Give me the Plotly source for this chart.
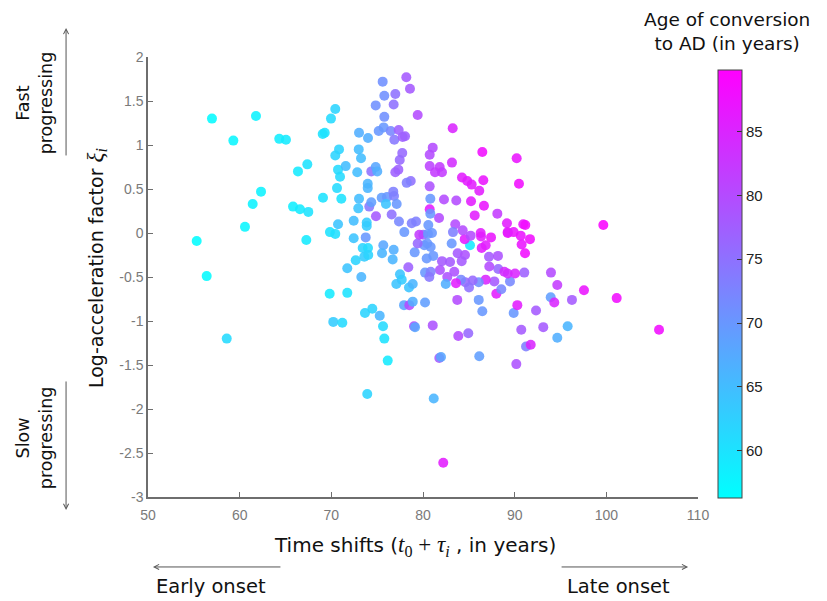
import plotly.graph_objects as go

# Time shift (t0 + tau_i, years) per subject
time_shift = [
    55.31, 56.40, 56.98, 58.59, 59.31, 60.58, 61.42, 61.78, 62.33, 64.32,
    65.05, 65.82, 66.58, 67.49, 66.36, 67.38, 67.27, 69.06, 69.28, 69.96,
    70.43, 69.09, 69.85, 70.43, 70.73, 70.62, 71.09, 70.73, 70.95, 70.84,
    70.43, 71.57, 72.44, 72.44, 72.66, 71.74, 72.99, 73.24, 73.02, 74.00,
    72.83, 73.97, 73.97, 73.02, 72.94, 73.86, 73.86, 73.75, 73.42, 74.00,
    73.60, 74.03, 73.27, 74.36, 74.84, 75.01, 74.14, 74.36, 74.87, 75.17,
    75.71, 75.78, 74.84, 75.78, 75.60, 76.98, 76.80, 78.18, 78.58, 79.42,
    76.48, 77.35, 78.04, 76.87, 77.78, 77.74, 77.46, 77.31, 76.98, 78.66,
    78.22, 75.49, 76.07, 76.84, 76.76, 75.96, 77.13, 76.58, 77.38, 77.96,
    78.77, 79.24, 75.67, 76.80, 75.53, 76.69, 79.09, 78.40, 69.82, 71.74,
    70.21, 71.20, 73.67, 74.47, 75.28, 75.64, 75.78, 76.15, 73.92, 77.49,
    77.68, 77.09, 78.47, 78.88, 77.93, 78.51, 78.88, 79.02, 79.13, 81.06,
    83.85, 81.78, 81.96, 81.17, 80.22, 82.21, 86.14, 90.18, 91.24, 91.75,
    84.94, 90.72, 93.12, 95.78, 94.65, 105.75, 83.74, 86.08, 86.47, 88.00,
    89.89, 90.29, 92.33, 93.93, 94.32, 96.25, 97.56, 101.13, 93.96, 94.65,
    91.05, 89.49, 88.54, 87.78, 86.84, 88.21, 88.87, 89.24, 90.04, 87.23,
    86.08, 85.42, 84.61, 85.02, 84.14, 83.60, 83.41, 82.65, 81.85, 82.48,
    80.22, 80.84, 80.69, 82.07, 82.95, 83.78, 84.58, 84.22, 87.20, 88.18,
    86.40, 86.84, 85.13, 83.13, 84.55, 80.14, 80.47, 81.12, 80.40, 79.42,
    80.03, 86.33, 87.42, 89.24, 90.66, 91.67, 90.76, 91.13, 83.24, 86.47,
    90.22, 90.47, 99.67, 81.06, 80.73, 80.73, 81.82, 82.07, 81.31, 83.16,
    84.25, 84.83, 85.31, 86.58, 86.14, 80.73, 80.80, 82.29, 83.63, 85.24,
    86.65, 85.64, 88.11, 80.73, 80.80, 81.75, 83.52, 89.16, 89.89, 89.24,
    90.94, 91.16, 83.27, 84.33, 85.20, 86.29, 79.60, 80.54, 80.98, 80.84,
    80.58,
]

# Log-acceleration factor xi_i per subject
log_accel = [
    -0.09, -0.49, 1.30, -1.20, 1.05, 0.07, 0.33, 1.33, 0.47, 1.07,
    1.06, 0.30, 0.27, 0.24, 0.70, 0.78, -0.08, 1.125, 1.14, 1.30,
    1.41, 0.40, 0.01, -0.01, 0.10, 0.51, 0.39, 0.72, 0.64, 0.95,
    0.88, 0.76, 0.14, -0.06, -0.31, -0.40, 0.95, 0.85, 1.14, 1.08,
    0.69, 0.56, 0.51, 0.39, 0.28, 0.12, 0.08, -0.05, -0.17, -0.17,
    -0.27, -0.25, -0.50, 0.70, 0.75, 0.70, 0.30, 0.35, 0.19, 1.16,
    1.20, 1.32, 1.45, 1.56, 1.72, 1.58, 1.46, 1.77, 1.64, 1.34,
    1.16, 1.17, 1.10, 1.06, 1.09, 0.91, 0.83, 0.72, 0.69, 0.59,
    0.57, 0.40, 0.41, 0.42, 0.47, 0.33, 0.33, 0.21, 0.13, 0.01,
    0.11, 0.13, -0.14, -0.19, -0.23, -0.30, -0.22, -0.39, -0.69, -0.68,
    -1.01, -1.02, -0.91, -0.86, -0.94, -1.06, -1.20, -1.45, -1.83, -0.47,
    -0.53, -0.58, -0.62, -0.58, -0.82, -0.82, -0.78, -1.06, -1.07, -1.05,
    -1.17, -1.42, -1.41, -1.88, -0.79, -2.61, -1.40, -1.49, -1.29, -1.27,
    -1.14, -1.10, -1.07, -1.06, -1.19, -1.10, -0.76, -0.76, -0.89, -0.69,
    -0.91, -0.82, -0.88, -0.73, -0.79, -0.76, -0.65, -0.74, -0.45, -0.59,
    -0.45, -0.55, -0.64, -0.55, -0.53, -0.41, -0.44, -0.46, -0.46, -0.38,
    -0.56, -0.54, -0.56, -0.62, -0.53, -0.57, -0.44, -0.50, -0.42, -0.58,
    -0.45, -0.44, -0.50, -0.32, -0.33, -0.23, -0.25, -0.32, -0.27, -0.26,
    -0.17, -0.14, -0.14, -0.12, -0.07, -0.14, -0.12, -0.26, -0.29, -0.12,
    -0.02, -0.04, -0.05, 0.00, -0.03, -0.07, -0.13, -0.23, 1.19, 0.92,
    0.85, 0.56, 0.09, 0.97, 0.89, 0.76, 0.75, 0.69, 0.69, 0.80,
    0.63, 0.59, 0.55, 0.60, 0.48, 0.53, 0.39, 0.38, 0.37, 0.36,
    0.31, 0.20, 0.22, 0.27, 0.22, 0.17, 0.10, 0.11, 0.01, 0.01,
    0.10, 0.09, 0.01, 0.03, -0.03, 0.00, -0.02, -0.01, 0.00, -0.16,
    0.09,
]

# Age of conversion to AD (years) per subject
conversion_age = [
    56.5, 57, 57, 61, 57.5, 57.5, 58, 58, 58, 58.5,
    59, 58.5, 59, 60, 59, 60, 59, 60, 60, 61,
    62, 60, 60, 60.5, 64, 61, 60, 61, 61, 62,
    62, 65, 65, 64, 62, 64, 65, 65, 67, 67,
    65, 66, 66, 65, 64, 63, 63, 70, 62, 61,
    63, 62, 66, 75, 68, 67, 74, 69, 78, 70,
    70, 71, 71, 71, 71, 75, 75, 78, 78, 80,
    72, 77, 77, 74, 77, 76, 76, 77, 77, 75,
    73, 69, 70, 73, 73, 64, 70, 75, 72, 70,
    73, 73, 68, 67, 66, 66, 70, 77, 59, 60,
    63, 61, 62, 62, 66, 61, 60, 59, 62, 64,
    63, 64, 64, 66, 68, 80, 67, 80, 68, 79,
    80, 78, 68, 66, 69, 86, 69, 79, 73, 85,
    76, 78, 78, 66, 67, 88, 80, 70, 70, 86,
    70, 86, 78, 69, 85, 78, 87, 88, 80, 82,
    77, 72, 72, 78, 85, 76, 84, 84, 85, 80,
    71, 76, 76, 75, 72, 86, 79, 79, 79, 67,
    70, 73, 74, 78, 78, 78, 79, 78, 78, 79,
    86, 86, 59, 70, 86, 70, 70, 70, 70, 76,
    76, 86, 87, 88, 87, 88, 87, 88, 85, 88,
    87, 88, 89, 80, 80, 81, 82, 82, 82, 84,
    86, 86, 86, 87, 86, 79, 70, 80, 80, 86,
    87, 86, 82, 86, 70, 80, 80, 86, 87, 86,
    87, 88, 73, 80, 80, 86, 82, 70, 70, 70,
    70,
]

x_ticks = [50, 60, 70, 80, 90, 100, 110]
y_ticks = [-3, -2.5, -2, -1.5, -1, -0.5, 0, 0.5, 1, 1.5, 2]
y_tick_text = ["-3", "-2.5", "-2", "-1.5", "-1", "-0.5", "0", "0.5", "1", "1.5", "2"]
age_ticks = [60, 65, 70, 75, 80, 85]

cool = [[0.0, "rgb(0,255,255)"], [1.0, "rgb(255,0,255)"]]

AXIS_GREY = "#6e6e6e"
TICK_FONT = dict(family="Liberation Sans, Arial, sans-serif", size=14, color="#7a7a7a")
SANS = "DejaVu Sans, sans-serif"


def text_font(size):
    return dict(family=SANS, size=size, color="#111111")


fig = go.Figure()
fig.add_trace(go.Scatter(
    x=time_shift,
    y=log_accel,
    mode="markers",
    marker=dict(
        size=10,
        color=conversion_age,
        colorscale=cool,
        cmin=56.3,
        cmax=89.8,
        opacity=0.88,
        line=dict(width=0),
        colorbar=dict(
            x=1.036, xanchor="left", xref="paper",
            y=0.484, yanchor="middle", yref="paper",
            thickness=24, thicknessmode="pixels",
            len=428, lenmode="pixels",
            tickvals=age_ticks,
            ticks="inside", ticklen=5, tickcolor="#333333",
            tickfont=dict(family="Liberation Sans, Arial, sans-serif", size=15, color="#222222"),
            outlinewidth=1, outlinecolor="#444444",
            xpad=0, ypad=0,
        ),
    ),
    showlegend=False,
    hoverinfo="x+y",
))

fig.update_xaxes(
    range=[50, 110], tickvals=x_ticks, ticks="inside", ticklen=5,
    tickcolor=AXIS_GREY, showline=True, linecolor=AXIS_GREY, linewidth=1.5,
    showgrid=False, zeroline=False, mirror=False, tickfont=TICK_FONT,
    ticklabelstandoff=4,
)
fig.update_yaxes(
    range=[-3, 2], tickvals=y_ticks, ticktext=y_tick_text, ticks="inside", ticklen=5,
    tickcolor=AXIS_GREY, showline=True, linecolor=AXIS_GREY, linewidth=1.5,
    showgrid=False, zeroline=False, mirror=False, tickfont=TICK_FONT,
)

serif = "font-family:'Liberation Serif', serif;font-size:23px"
annotations = [
    # axis titles
    dict(text="Log-acceleration factor <span style=\"" + serif + "\"><i>ξ<sub>i</sub></i></span>",
         x=-0.093, y=0.52, textangle=-90, font=text_font(19)),
    dict(text="Time shifts (<span style=\"" + serif + "\"><i>t</i><sub>0</sub> + <i>τ<sub>i</sub></i></span> , in years)",
         x=0.485, y=-0.111, font=text_font(20)),
    # colour bar title
    dict(text="Age of conversion<br>to AD (in years)", x=1.052, y=1.057, font=text_font(18.5)),
    # side notes
    dict(text="Fast<br>progressing", x=-0.207, y=0.895, textangle=-90, font=text_font(17.5)),
    dict(text="Slow<br>progressing", x=-0.207, y=0.134, textangle=-90, font=text_font(17.5)),
    dict(text="Early onset", x=0.115, y=-0.2045, font=text_font(19.5)),
    dict(text="Late onset", x=0.856, y=-0.2045, font=text_font(19.5)),
]
for a in annotations:
    fig.add_annotation(xref="paper", yref="paper", showarrow=False,
                       xanchor="center", yanchor="middle", **a)

# direction arrows
arrow_style = dict(xref="paper", yref="paper", text="", showarrow=True,
                   arrowhead=5, arrowsize=1, arrowwidth=1, arrowcolor="#555555",
                   axref="pixel", ayref="pixel")
fig.add_annotation(x=-0.149, y=1.066, ax=0, ay=129, **arrow_style)
fig.add_annotation(x=-0.149, y=-0.0295, ax=0, ay=-130, **arrow_style)
fig.add_annotation(x=0.009, y=-0.159, ax=129, ay=0, **arrow_style)
fig.add_annotation(x=0.982, y=-0.159, ax=-128, ay=0, **arrow_style)

fig.update_layout(
    width=827, height=601,
    margin=dict(l=148, r=129, t=57, b=104),
    paper_bgcolor="white", plot_bgcolor="white",
    font=dict(family=SANS),
)

fig.write_html("out.html")
